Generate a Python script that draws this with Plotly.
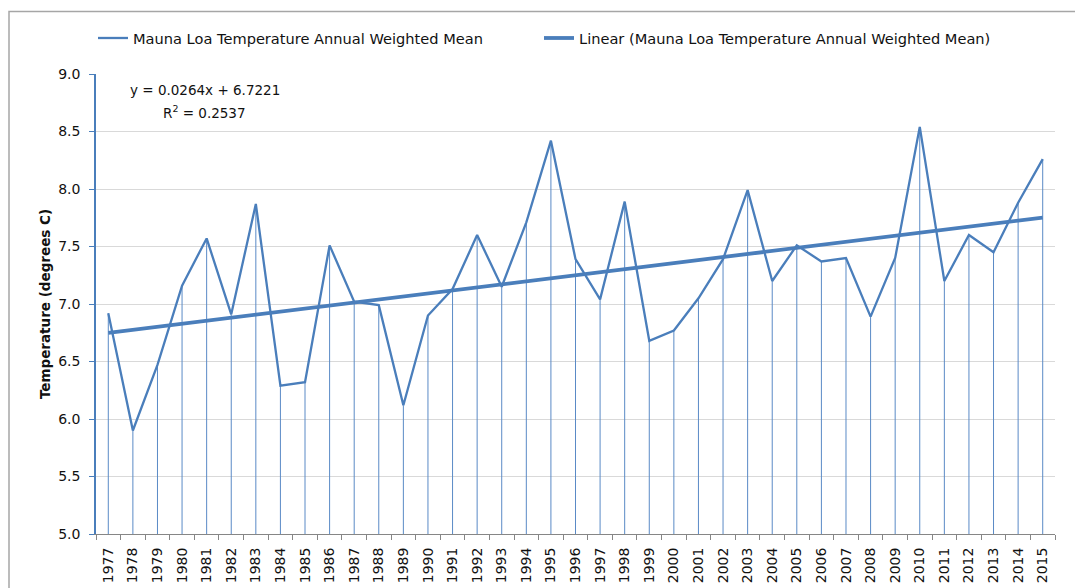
import plotly.graph_objects as go

years = [str(y) for y in range(1977, 2016)]
temps = [6.92, 5.90, 6.47, 7.16, 7.57, 6.91, 7.87, 6.29, 6.32, 7.51,
         7.02, 6.99, 6.12, 6.90, 7.13, 7.60, 7.15, 7.71, 8.42, 7.39,
         7.04, 7.89, 6.68, 6.77, 7.05, 7.39, 7.99, 7.20, 7.51, 7.37,
         7.40, 6.89, 7.40, 8.54, 7.20, 7.60, 7.45, 7.88, 8.26]
slope = 0.0264
intercept = 6.7221
r_squared = 0.2537
y_base = 5.0
y_ticks = [5.0, 5.5, 6.0, 6.5, 7.0, 7.5, 8.0, 8.5, 9.0]
series_name = "Mauna Loa Temperature Annual Weighted Mean"

trend = [slope * (i + 1) + intercept for i in range(len(years))]
drops = [t - y_base for t in temps]

LINE = "#4a7ebb"
FONT = "DejaVu Sans"

# page has an 8px body margin; positions below are in page pixels
OFF = 8
PW, PH = 959, 460
L, T = 96 - OFF, 74 - OFF
W, H = 1083, 588


def px_x(x):
    return (x - OFF - L) / PW


def px_y(y):
    return (T + PH - (y - OFF)) / PH


fig = go.Figure()
fig.add_trace(go.Scatter(
    x=years, y=temps, mode="lines", name=series_name, legend="legend",
    line=dict(color=LINE, width=2.3),
    error_y=dict(type="data", symmetric=False, array=[0] * len(temps),
                 arrayminus=drops, width=0, thickness=1, color="#5a8ac6"),
))
fig.add_trace(go.Scatter(
    x=years, y=trend, mode="lines", name="Linear (" + series_name + ")",
    legend="legend2",
    line=dict(color=LINE, width=3.8),
))

fig.add_annotation(xref="paper", yref="paper", x=px_x(205), y=px_y(90),
                   text=f"y = {slope}x + {intercept}", showarrow=False,
                   xanchor="center", yanchor="middle",
                   font=dict(family=FONT, size=13.5, color="#111"))
fig.add_annotation(xref="paper", yref="paper", x=px_x(204), y=px_y(112),
                   text=f"R<sup>2</sup> = {r_squared}", showarrow=False,
                   xanchor="center", yanchor="middle",
                   font=dict(family=FONT, size=13.5, color="#111"))

# outer chart border (left edge clipped by page margin)
fig.add_shape(type="rect", xref="paper", yref="paper",
              x0=px_x(OFF + 1), x1=px_x(1110),
              y0=px_y(620), y1=px_y(11.5),
              line=dict(color="#a6a6a6", width=1.5), layer="above")

leg_common = dict(orientation="h", xref="container", yref="container",
                  xanchor="left", yanchor="top",
                  font=dict(family=FONT, size=14.6, color="#111"),
                  bgcolor="rgba(0,0,0,0)")
leg_y = 1 - (24 - OFF - 2) / H

fig.update_layout(
    width=W, height=H,
    margin=dict(l=L, r=W - L - PW, t=T, b=H - T - PH, autoexpand=False),
    paper_bgcolor="white", plot_bgcolor="rgba(0,0,0,0)",
    font=dict(family=FONT, size=13, color="#111"),
    showlegend=True,
    legend=dict(x=(93 - OFF) / W, y=leg_y, **leg_common),
    legend2=dict(x=(539 - OFF) / W, y=leg_y, **leg_common),
    xaxis=dict(type="category", tickson="boundaries", ticks="outside",
               ticklen=5, tickcolor="#868686", showline=True,
               linecolor="#868686", linewidth=1, showgrid=False,
               tickangle=-90, ticklabelstandoff=7,
               tickfont=dict(family=FONT, size=14, color="#111"),
               range=[-0.5, len(years) - 0.5]),
    yaxis=dict(range=[5.0, 9.0], tickvals=y_ticks, tickformat=".1f",
               ticks="outside", ticklen=5, tickcolor=LINE,
               showline=True, linecolor=LINE, linewidth=1.5,
               showgrid=True, gridcolor="#d9d9d9", gridwidth=1, zeroline=False,
               ticklabelstandoff=6,
               tickfont=dict(family=FONT, size=14, color="#111"),
               title=dict(text="<b>Temperature (degrees C)</b>",
                          font=dict(family=FONT, size=13.5, color="#111"),
                          standoff=4)),
)

fig.write_html("out.html")
